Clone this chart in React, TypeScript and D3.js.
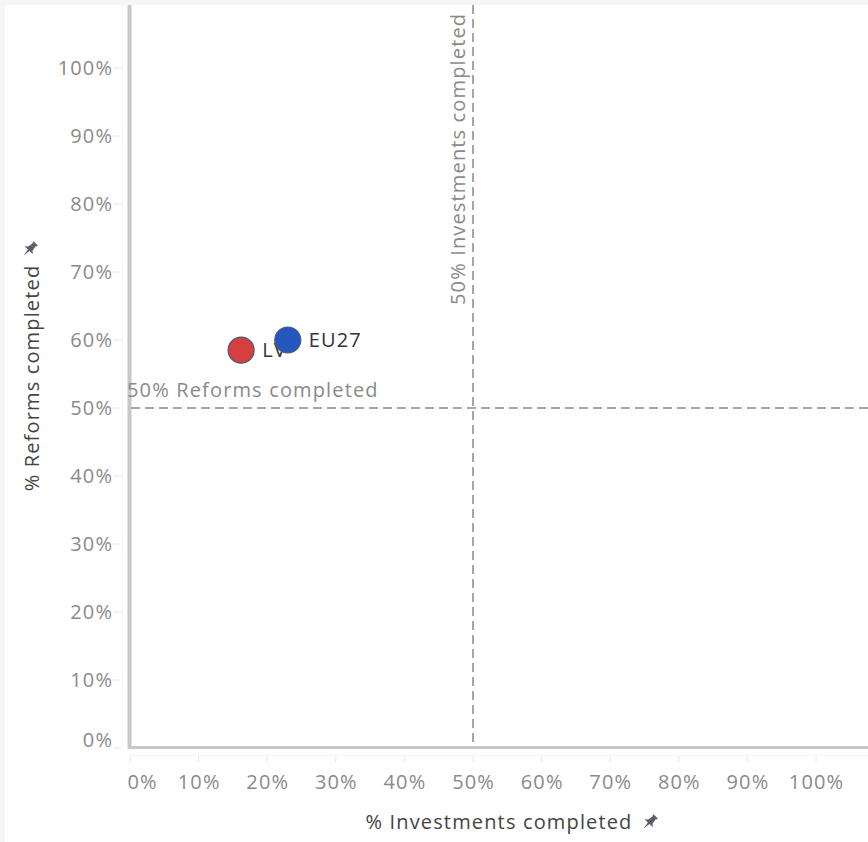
import React from "react";
import * as d3 from "d3";

const countries = ["LV", "EU27"];
const investments = [0.162, 0.23];
const reforms = [0.585, 0.6];
const pointColors = ["#d73f3f", "#2457bd"];
const xTicks = [0, 0.1, 0.2, 0.3, 0.4, 0.5, 0.6, 0.7, 0.8, 0.9, 1.0];
const yTicks = [0, 0.1, 0.2, 0.3, 0.4, 0.5, 0.6, 0.7, 0.8, 0.9, 1.0];
const refX = 0.5;
const refY = 0.5;
const refXLabel = "50% Investments completed";
const refYLabel = "50% Reforms completed";
const xTitle = "% Investments completed";
const yTitle = "% Reforms completed";

const W = 868;
const H = 842;
const FONT = "'Open Sans', sans-serif";
const FS = 20;
const LS = 1.15;

function Pin({ x, y }: { x: number; y: number }) {
  return (
    <g transform={`translate(${x},${y}) rotate(45) scale(1.15)`} fill="#5a5f6a">
      <path d="M-2.6,-7 L2.6,-7 L2.6,-6 L1.8,-5.2 L2.6,-0.5 L5,1.6 L1,1.6 L0,8 L-1,1.6 L-5,1.6 L-2.6,-0.5 L-1.8,-5.2 L-2.6,-6 Z" />
    </g>
  );
}

export default function App() {
  const x = d3.scaleLinear().domain([0, 1.08]).range([130, 130 + 686 * 1.08]);
  const y = d3.scaleLinear().domain([0, 1]).range([748, 68]);
  const fmt = d3.format(".0%");
  const top = 5;
  const left = 5;
  const common = { fontFamily: FONT, fontSize: FS, letterSpacing: LS };

  return (
    <div style={{ position: "absolute", left: 0, top: 0 }}>
      <svg width={W} height={H} style={{ display: "block" }}>
        <rect x={0} y={0} width={W} height={H} fill="#f6f6f4" />
        <rect x={left} y={top} width={W - left} height={H - top} fill="#ffffff" />
        {/* faint separators */}
        <line x1={122.5} x2={122.5} y1={top} y2={748} stroke="#f2f2f2" strokeWidth={1} />
        <line x1={130} x2={W} y1={755.5} y2={755.5} stroke="#f2f2f2" strokeWidth={1} />

        {/* y ticks */}
        {yTicks.map((t) => (
          <g key={"y" + t}>
            <line x1={113} x2={121} y1={y(t)} y2={y(t)} stroke="#e6e6e6" strokeWidth={1} />
            <text
              x={112 + LS}
              y={t === 0 ? y(t) - 8 : y(t)}
              dy="0.35em"
              textAnchor="end"
              {...common}
              fill="#8a8a8a"
            >
              {fmt(t)}
            </text>
          </g>
        ))}

        {/* x ticks */}
        {xTicks.map((t) => (
          <g key={"x" + t}>
            <line x1={x(t)} x2={x(t)} y1={756} y2={762} stroke="#e6e6e6" strokeWidth={1} />
            <text
              x={(t === 0 ? x(t) + 12 : x(t)) + LS / 2}
              y={782}
              dy="0.35em"
              textAnchor="middle"
              {...common}
              fill="#8a8a8a"
            >
              {fmt(t)}
            </text>
          </g>
        ))}

        {/* axes */}
        <line x1={129.5} x2={129.5} y1={top} y2={749} stroke="#c8c8c8" strokeWidth={4} />
        <line x1={128} x2={W} y1={747.5} y2={747.5} stroke="#c8c8c8" strokeWidth={3} />

        {/* reference lines */}
        <line x1={131} x2={W} y1={y(refY)} y2={y(refY)} stroke="#a6a6a6" strokeWidth={2} strokeDasharray="9,5" />
        <line x1={x(refX)} x2={x(refX)} y1={top} y2={746} stroke="#a6a6a6" strokeWidth={2} strokeDasharray="9,5" />
        <text x={127} y={y(refY) - 18} dy="0.35em" {...common} fill="#8a8a8a">
          {refYLabel}
        </text>
        <text
          transform={`translate(${x(refX) - 15},${305}) rotate(-90)`}
          dy="0.35em"
          {...common}
          fill="#8a8a8a"
        >
          {refXLabel}
        </text>

        {/* points */}
        {countries.map((c, i) => (
          <g key={c}>
            <circle cx={x(investments[i])} cy={y(reforms[i])} r={13} fill={pointColors[i]} stroke="#4a5a78" strokeWidth={1.2} />
            <text
              x={x(investments[i]) + 21}
              y={y(reforms[i])}
              dy="0.35em"
              {...common}
              fill="#333333"
            >
              {c}
            </text>
          </g>
        ))}

        {/* titles */}
        <text x={499} y={822} dy="0.35em" textAnchor="middle" {...common} fill="#444444">
          {xTitle}
        </text>
        <Pin x={650} y={822} />
        <text
          transform={`translate(32,378) rotate(-90)`}
          dy="0.35em"
          textAnchor="middle"
          {...common}
          fill="#444444"
        >
          {yTitle}
        </text>
        <Pin x={30} y={249} />
      </svg>
    </div>
  );
}
